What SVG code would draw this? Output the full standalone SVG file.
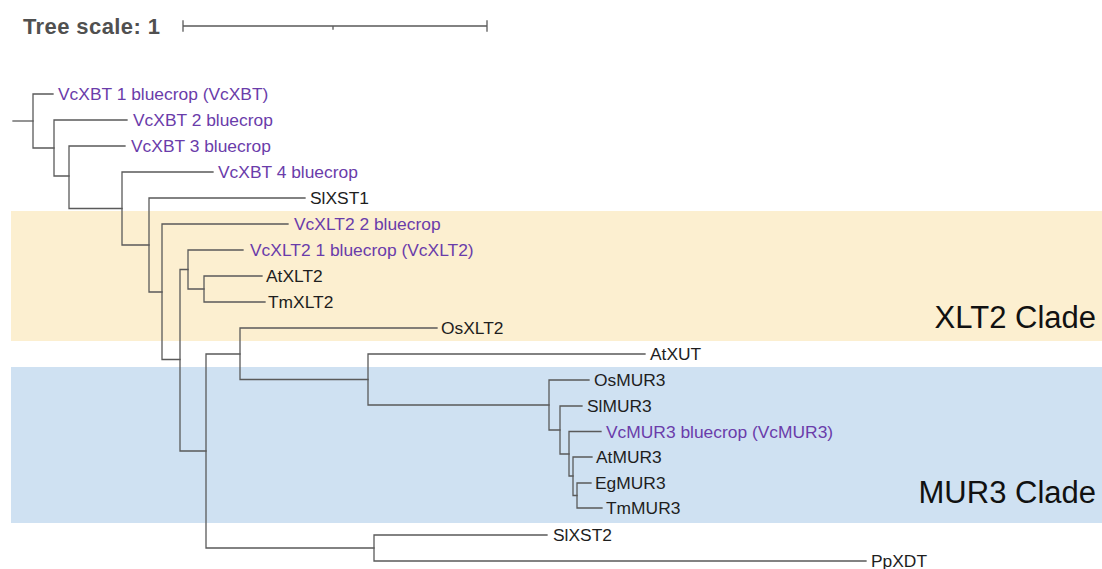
<svg xmlns="http://www.w3.org/2000/svg" width="1102" height="569" viewBox="0 0 1102 569">
<style>
.br{fill:none;stroke:#5a5a5a;stroke-width:1.3;stroke-linecap:square}
.lb{font-family:"Liberation Sans",Arial,sans-serif;font-size:17.4px;fill:#1e1e1e}
.vc{fill:#6a3caa}
.cl{font-family:"Liberation Sans",Arial,sans-serif;font-size:31px;fill:#111;text-anchor:end}
.ts{font-family:"Liberation Sans",Arial,sans-serif;font-size:22px;font-weight:bold;fill:#505050;letter-spacing:0.4px}
</style>
<rect width="1102" height="569" fill="#ffffff"/>
<g id="bands">
<rect x="11" y="211" width="1091" height="130" fill="#fcefd0"/>
<rect x="11" y="367" width="1091" height="156" fill="#cfe1f2"/>
</g>
<g id="scale">
<text class="ts" x="23" y="33.5">Tree scale: 1</text>
<path class="br" d="M183 26 H487 M183 21 V31 M487 21 V31 M333 26 V29"/>
</g>
<g id="connectors">
<path class="br" d="M13 121 H33"/>
<path class="br" d="M53 94 H33 V148 H54"/>
<path class="br" d="M127 120 H54 V176 H69"/>
<path class="br" d="M125 146 H69 V208.5 H122"/>
<path class="br" d="M213 172 H122 V245 H149"/>
<path class="br" d="M305 198 H149 V292 H162"/>
<path class="br" d="M288 224 H162 V359.5 H180"/>
<path class="br" d="M188 269.5 H180 V451 H206"/>
<path class="br" d="M243 250 H188 V289 H204"/>
<path class="br" d="M262 276 H204 V302 H265"/>
<path class="br" d="M240 354 H206 V548 H374"/>
<path class="br" d="M437 328 H240 V379.5 H368"/>
<path class="br" d="M645 354 H368 V405 H549"/>
<path class="br" d="M589 380 H549 V430 H560"/>
<path class="br" d="M582 406 H560 V454 H569"/>
<path class="br" d="M601 431.5 H569 V476 H573"/>
<path class="br" d="M592 457 H573 V495.5 H577"/>
<path class="br" d="M591 483 H577 V508 H602"/>
<path class="br" d="M547 535 H374 V561 H866"/>
</g>
<g id="VcXBT1"><text class="lb vc" x="58" y="100">VcXBT 1 bluecrop (VcXBT)</text></g>
<g id="VcXBT2"><text class="lb vc" x="133" y="126">VcXBT 2 bluecrop</text></g>
<g id="VcXBT3"><text class="lb vc" x="131" y="152">VcXBT 3 bluecrop</text></g>
<g id="VcXBT4"><text class="lb vc" x="218" y="178">VcXBT 4 bluecrop</text></g>
<g id="SlXST1"><text class="lb" x="310" y="204">SlXST1</text></g>
<g id="VcXLT2_2"><text class="lb vc" x="294" y="230">VcXLT2 2 bluecrop</text></g>
<g id="VcXLT2_1"><text class="lb vc" x="250" y="256">VcXLT2 1 bluecrop (VcXLT2)</text></g>
<g id="AtXLT2"><text class="lb" x="266" y="282">AtXLT2</text></g>
<g id="TmXLT2"><text class="lb" x="268" y="308">TmXLT2</text></g>
<g id="OsXLT2"><text class="lb" x="441" y="334">OsXLT2</text></g>
<g id="AtXUT"><text class="lb" x="650" y="360">AtXUT</text></g>
<g id="OsMUR3"><text class="lb" x="594" y="386">OsMUR3</text></g>
<g id="SlMUR3"><text class="lb" x="587" y="412">SlMUR3</text></g>
<g id="VcMUR3"><text class="lb vc" x="606" y="437.5">VcMUR3 bluecrop (VcMUR3)</text></g>
<g id="AtMUR3"><text class="lb" x="596" y="463">AtMUR3</text></g>
<g id="EgMUR3"><text class="lb" x="595" y="489">EgMUR3</text></g>
<g id="TmMUR3"><text class="lb" x="606" y="514">TmMUR3</text></g>
<g id="SlXST2"><text class="lb" x="553" y="541">SlXST2</text></g>
<g id="PpXDT"><text class="lb" x="871" y="567">PpXDT</text></g>
<g id="XLT2_Clade"><text class="cl" x="1096" y="328">XLT2 Clade</text></g>
<g id="MUR3_Clade"><text class="cl" x="1096" y="503">MUR3 Clade</text></g>
</svg>
